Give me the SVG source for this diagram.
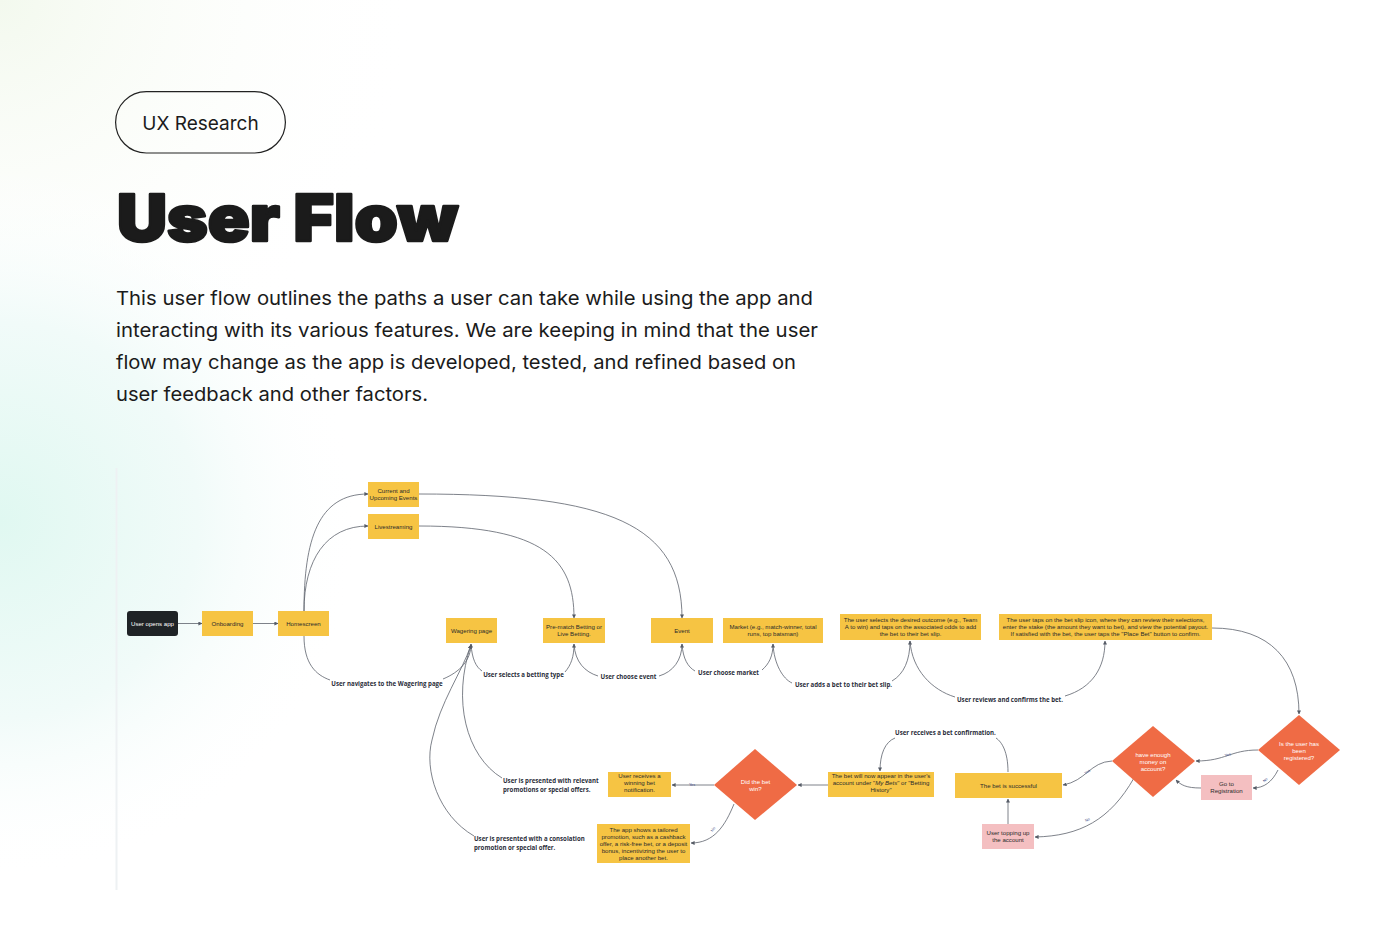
<svg xmlns="http://www.w3.org/2000/svg" width="1400" height="948" viewBox="0 0 1400 948">
<defs>
<radialGradient id="bgL" cx="0" cy="520" r="360" gradientUnits="userSpaceOnUse">
<stop offset="0" stop-color="#e0f8f1"/>
<stop offset="0.55" stop-color="#f1fbf9"/>
<stop offset="1" stop-color="#ffffff" stop-opacity="0"/>
</radialGradient>
<radialGradient id="bgT" cx="0" cy="0" r="420" gradientUnits="userSpaceOnUse">
<stop offset="0" stop-color="#f3f9ee"/>
<stop offset="1" stop-color="#ffffff" stop-opacity="0"/>
</radialGradient>
<marker id="arr" viewBox="0 0 10 10" refX="9" refY="5" markerWidth="4" markerHeight="4" markerUnits="userSpaceOnUse" orient="auto">
<path d="M0,0 L10,5 L0,10 z" fill="#555b66"/>
</marker>
<style>
.pill{fill:none;stroke:#222;stroke-width:1.2}
.hd{font-family:Inter,"Liberation Sans",sans-serif;fill:#1b1b1b}
.y{fill:#f6c443}
.pk{fill:#f4bfc1}
.dm{fill:#ef6b45}
.dk{fill:#1f2326}
.t{font-family:"Liberation Sans",Arial,sans-serif;font-size:6.1px;fill:#2b2b2b;text-anchor:middle}
.tw{font-family:"Liberation Sans",Arial,sans-serif;font-size:6.1px;fill:#ffffff;text-anchor:middle}
.lb{font-family:"Open Sans","Liberation Sans",sans-serif;font-size:6.1px;font-weight:700;fill:#2a2d3a}
.yn{font-family:"Liberation Sans",Arial,sans-serif;font-size:3.8px;fill:#3d4b86;text-anchor:middle}
.c{fill:none;stroke:#5d626c;stroke-width:0.8}
</style>
</defs>
<rect width="1400" height="948" fill="#ffffff"/>
<rect width="1400" height="948" fill="url(#bgT)"/>
<rect width="1400" height="948" fill="url(#bgL)"/>
<line x1="116.5" y1="468" x2="116.5" y2="890" stroke="#eef1f3" stroke-width="2"/>

<g id="header">
<rect class="pill" x="115.6" y="91.6" width="169.8" height="61.4" rx="30.7"/>
<text class="hd" x="200.5" y="130" font-size="19" text-anchor="middle">UX Research</text>
<text class="hd" x="117" y="241" font-size="64" font-weight="900" stroke="#1b1b1b" stroke-width="2.6" stroke-linejoin="round" textLength="341" lengthAdjust="spacingAndGlyphs">User Flow</text>
<text class="hd" x="116" y="305" font-size="19" textLength="697" lengthAdjust="spacingAndGlyphs">This user flow outlines the paths a user can take while using the app and</text>
<text class="hd" x="116" y="337" font-size="19" textLength="702" lengthAdjust="spacingAndGlyphs">interacting with its various features. We are keeping in mind that the user</text>
<text class="hd" x="116" y="369" font-size="19" textLength="680" lengthAdjust="spacingAndGlyphs">flow may change as the app is developed, tested, and refined based on</text>
<text class="hd" x="116" y="401" font-size="19" textLength="312" lengthAdjust="spacingAndGlyphs">user feedback and other factors.</text>
</g>

<g id="connectors">
<path class="c" d="M178,623.5 L202,623.5" marker-end="url(#arr)"/>
<path class="c" d="M253,623.5 L278,623.5" marker-end="url(#arr)"/>
<path class="c" d="M304,611 C304,540 318,494 368,494" marker-end="url(#arr)"/>
<path class="c" d="M304,611 C304,560 326,526 368,526" marker-end="url(#arr)"/>
<path class="c" d="M419,494 C610,494 682,525 682,618" marker-end="url(#arr)"/>
<path class="c" d="M419,526 C545,526 574,560 574,618" marker-end="url(#arr)"/>
<path class="c" d="M304,636 C304,664 316,675 330,680"/>
<path class="c" d="M443,679 C460,672 471,660 471,644" marker-end="url(#arr)"/>
<path class="c" d="M471,644 C472,659 476,667 482,671"/>
<path class="c" d="M565,672 C571,665 574,657 574,644" marker-end="url(#arr)"/>
<path class="c" d="M574,644 C575,662 585,672 598,676"/>
<path class="c" d="M659,676 C673,672 682,660 682,644" marker-end="url(#arr)"/>
<path class="c" d="M682,644 C683,659 688,667 695,671"/>
<path class="c" d="M762,670 C769,664 773,656 773,644" marker-end="url(#arr)"/>
<path class="c" d="M773,644 C774,664 783,679 792,683"/>
<path class="c" d="M892,681 C904,674 910,660 910,641" marker-end="url(#arr)"/>
<path class="c" d="M910,641 C912,670 932,690 955,697"/>
<path class="c" d="M1065,696 C1092,688 1105,668 1105,641" marker-end="url(#arr)"/>
<path class="c" d="M1212,628 C1270,628 1299,660 1299,714" marker-end="url(#arr)"/>
<path class="c" d="M1258,750 C1230,750 1226,761 1196,761" marker-end="url(#arr)"/>
<path class="c" d="M1278,770 C1272,782 1264,788 1253,788" marker-end="url(#arr)"/>
<path class="c" d="M1201,788 C1186,788 1181,785 1176,780" marker-end="url(#arr)"/>
<path class="c" d="M1112,761 C1090,762 1086,781 1063,785" marker-end="url(#arr)"/>
<path class="c" d="M1134,778 C1110,820 1080,836 1035,837" marker-end="url(#arr)"/>
<path class="c" d="M1008,824 L1008,799" marker-end="url(#arr)"/>
<path class="c" d="M1008,772 C1008,752 1002,742 996,738"/>
<path class="c" d="M895,738 C885,742 880,754 880,771" marker-end="url(#arr)"/>
<path class="c" d="M828,785 L798,785" marker-end="url(#arr)"/>
<path class="c" d="M714,785 L672,785" marker-end="url(#arr)"/>
<path class="c" d="M734,804 C725,826 714,843 691,843" marker-end="url(#arr)"/>
<path class="c" d="M502,778 C466,756 452,700 471,645" marker-end="url(#arr)"/>
<path class="c" d="M474,836 C438,815 424,770 432,740 C440,702 462,672 471,645" marker-end="url(#arr)"/>
<text class="yn" x="1228" y="756" transform="rotate(-12 1228 756)">Yes</text>
<text class="yn" x="1266" y="781" transform="rotate(-40 1266 781)">No</text>
<text class="yn" x="1088" y="773" transform="rotate(-35 1088 773)">Yes</text>
<text class="yn" x="1088" y="821" transform="rotate(-25 1088 821)">No</text>
<text class="yn" x="692" y="786">Yes</text>
<text class="yn" x="714" y="830" transform="rotate(-55 714 830)">No</text>
<text class="lb" x="387" y="686" text-anchor="middle">User navigates to the Wagering page</text>
<text class="lb" x="523.5" y="677" text-anchor="middle">User selects a betting type</text>
<text class="lb" x="628.5" y="679" text-anchor="middle">User choose event</text>
<text class="lb" x="728.5" y="675" text-anchor="middle">User choose market</text>
<text class="lb" x="843.5" y="687" text-anchor="middle">User adds a bet to their bet slip.</text>
<text class="lb" x="1010" y="702" text-anchor="middle">User reviews and confirms the bet.</text>
<text class="lb" x="945.5" y="735" text-anchor="middle">User receives a bet confirmation.</text>
<text class="lb" x="503" y="783">User is presented with relevant</text>
<text class="lb" x="503" y="792">promotions or special offers.</text>
<text class="lb" x="474" y="841">User is presented with a consolation</text>
<text class="lb" x="474" y="850">promotion or special offer.</text>
</g>

<g id="n-open"><rect class="dk" x="127" y="611" width="51" height="25" rx="3"/><text class="tw" x="152.5" y="625.6">User opens app</text></g>
<g id="n-onboarding"><rect class="y" x="202" y="611" width="51" height="25"/><text class="t" x="227.5" y="625.6">Onboarding</text></g>
<g id="n-home"><rect class="y" x="278" y="611" width="51" height="25"/><text class="t" x="303.5" y="625.6">Homescreen</text></g>
<g id="n-events"><rect class="y" x="368" y="482" width="51" height="25"/><text class="t" x="393.5" y="493">Current and</text><text class="t" x="393.5" y="500.2">Upcoming Events</text></g>
<g id="n-live"><rect class="y" x="368" y="514" width="51" height="25"/><text class="t" x="393.5" y="528.6">Livestreaming</text></g>
<g id="n-wager"><rect class="y" x="446" y="618" width="51" height="25"/><text class="t" x="471.5" y="632.6">Wagering page</text></g>
<g id="n-prematch"><rect class="y" x="543" y="618" width="62" height="25"/><text class="t" x="574" y="629">Pre-match Betting or</text><text class="t" x="574" y="636.2">Live Betting.</text></g>
<g id="n-event"><rect class="y" x="651" y="618" width="62" height="25"/><text class="t" x="682" y="632.6">Event</text></g>
<g id="n-market"><rect class="y" x="723" y="618" width="100" height="25"/><text class="t" x="773" y="629">Market (e.g., match-winner, total</text><text class="t" x="773" y="636.2">runs, top batsman)</text></g>
<g id="n-outcome"><rect class="y" x="840" y="614" width="141" height="26"/><text class="t" x="910.5" y="621.8">The user selects the desired outcome (e.g., Team</text><text class="t" x="910.5" y="629">A to win) and taps on the associated odds to add</text><text class="t" x="910.5" y="636.2">the bet to their bet slip.</text></g>
<g id="n-betslip"><rect class="y" x="999" y="614" width="213" height="26"/><text class="t" x="1105.5" y="621.8">The user taps on the bet slip icon, where they can review their selections,</text><text class="t" x="1105.5" y="629">enter the stake (the amount they want to bet), and view the potential payout.</text><text class="t" x="1105.5" y="636.2">If satisfied with the bet, the user taps the "Place Bet" button to confirm.</text></g>
<g id="n-registered"><polygon class="dm" points="1299,715 1340,750 1299,785 1258,750"/><text class="tw" x="1299" y="745.6">Is the user has</text><text class="tw" x="1299" y="752.6">been</text><text class="tw" x="1299" y="759.6">registered?</text></g>
<g id="n-money"><polygon class="dm" points="1153,726 1195,761 1153,797 1112,761"/><text class="tw" x="1153" y="756.6">have enough</text><text class="tw" x="1153" y="763.6">money on</text><text class="tw" x="1153" y="770.6">account?</text></g>
<g id="n-registration"><rect class="pk" x="1201" y="775" width="51" height="25"/><text class="t" x="1226.5" y="785.5" font-size="6.4">Go to</text><text class="t" x="1226.5" y="793" font-size="6.4">Registration</text></g>
<g id="n-success"><rect class="y" x="955" y="773" width="107" height="25"/><text class="t" x="1008.5" y="787.6">The bet is successful</text></g>
<g id="n-topup"><rect class="pk" x="982" y="824" width="52" height="25"/><text class="t" x="1008" y="835">User topping up</text><text class="t" x="1008" y="842.2">the account</text></g>
<g id="n-appear"><rect class="y" x="828" y="772" width="106" height="25"/><text class="t" x="881" y="777.6">The bet will now appear in the user's</text><text class="t" x="881" y="784.6">account under "<tspan font-style="italic">My Bets</tspan>" or "Betting</text><text class="t" x="881" y="791.6">History"</text></g>
<g id="n-win"><polygon class="dm" points="755,749 797,785 755,820 714,785"/><text class="tw" x="755.5" y="783.6">Did the bet</text><text class="tw" x="755.5" y="790.6">win?</text></g>
<g id="n-winning"><rect class="y" x="608" y="772" width="63" height="25"/><text class="t" x="639.5" y="777.6">User receives a</text><text class="t" x="639.5" y="784.6">winning bet</text><text class="t" x="639.5" y="791.6">notification.</text></g>
<g id="n-promo"><rect class="y" x="597" y="824" width="93" height="39"/><text class="t" x="643.5" y="831.6">The app shows a tailored</text><text class="t" x="643.5" y="838.6">promotion, such as a cashback</text><text class="t" x="643.5" y="845.6">offer, a risk-free bet, or a deposit</text><text class="t" x="643.5" y="852.6">bonus, incentivizing the user to</text><text class="t" x="643.5" y="859.6">place another bet.</text></g>
</svg>
